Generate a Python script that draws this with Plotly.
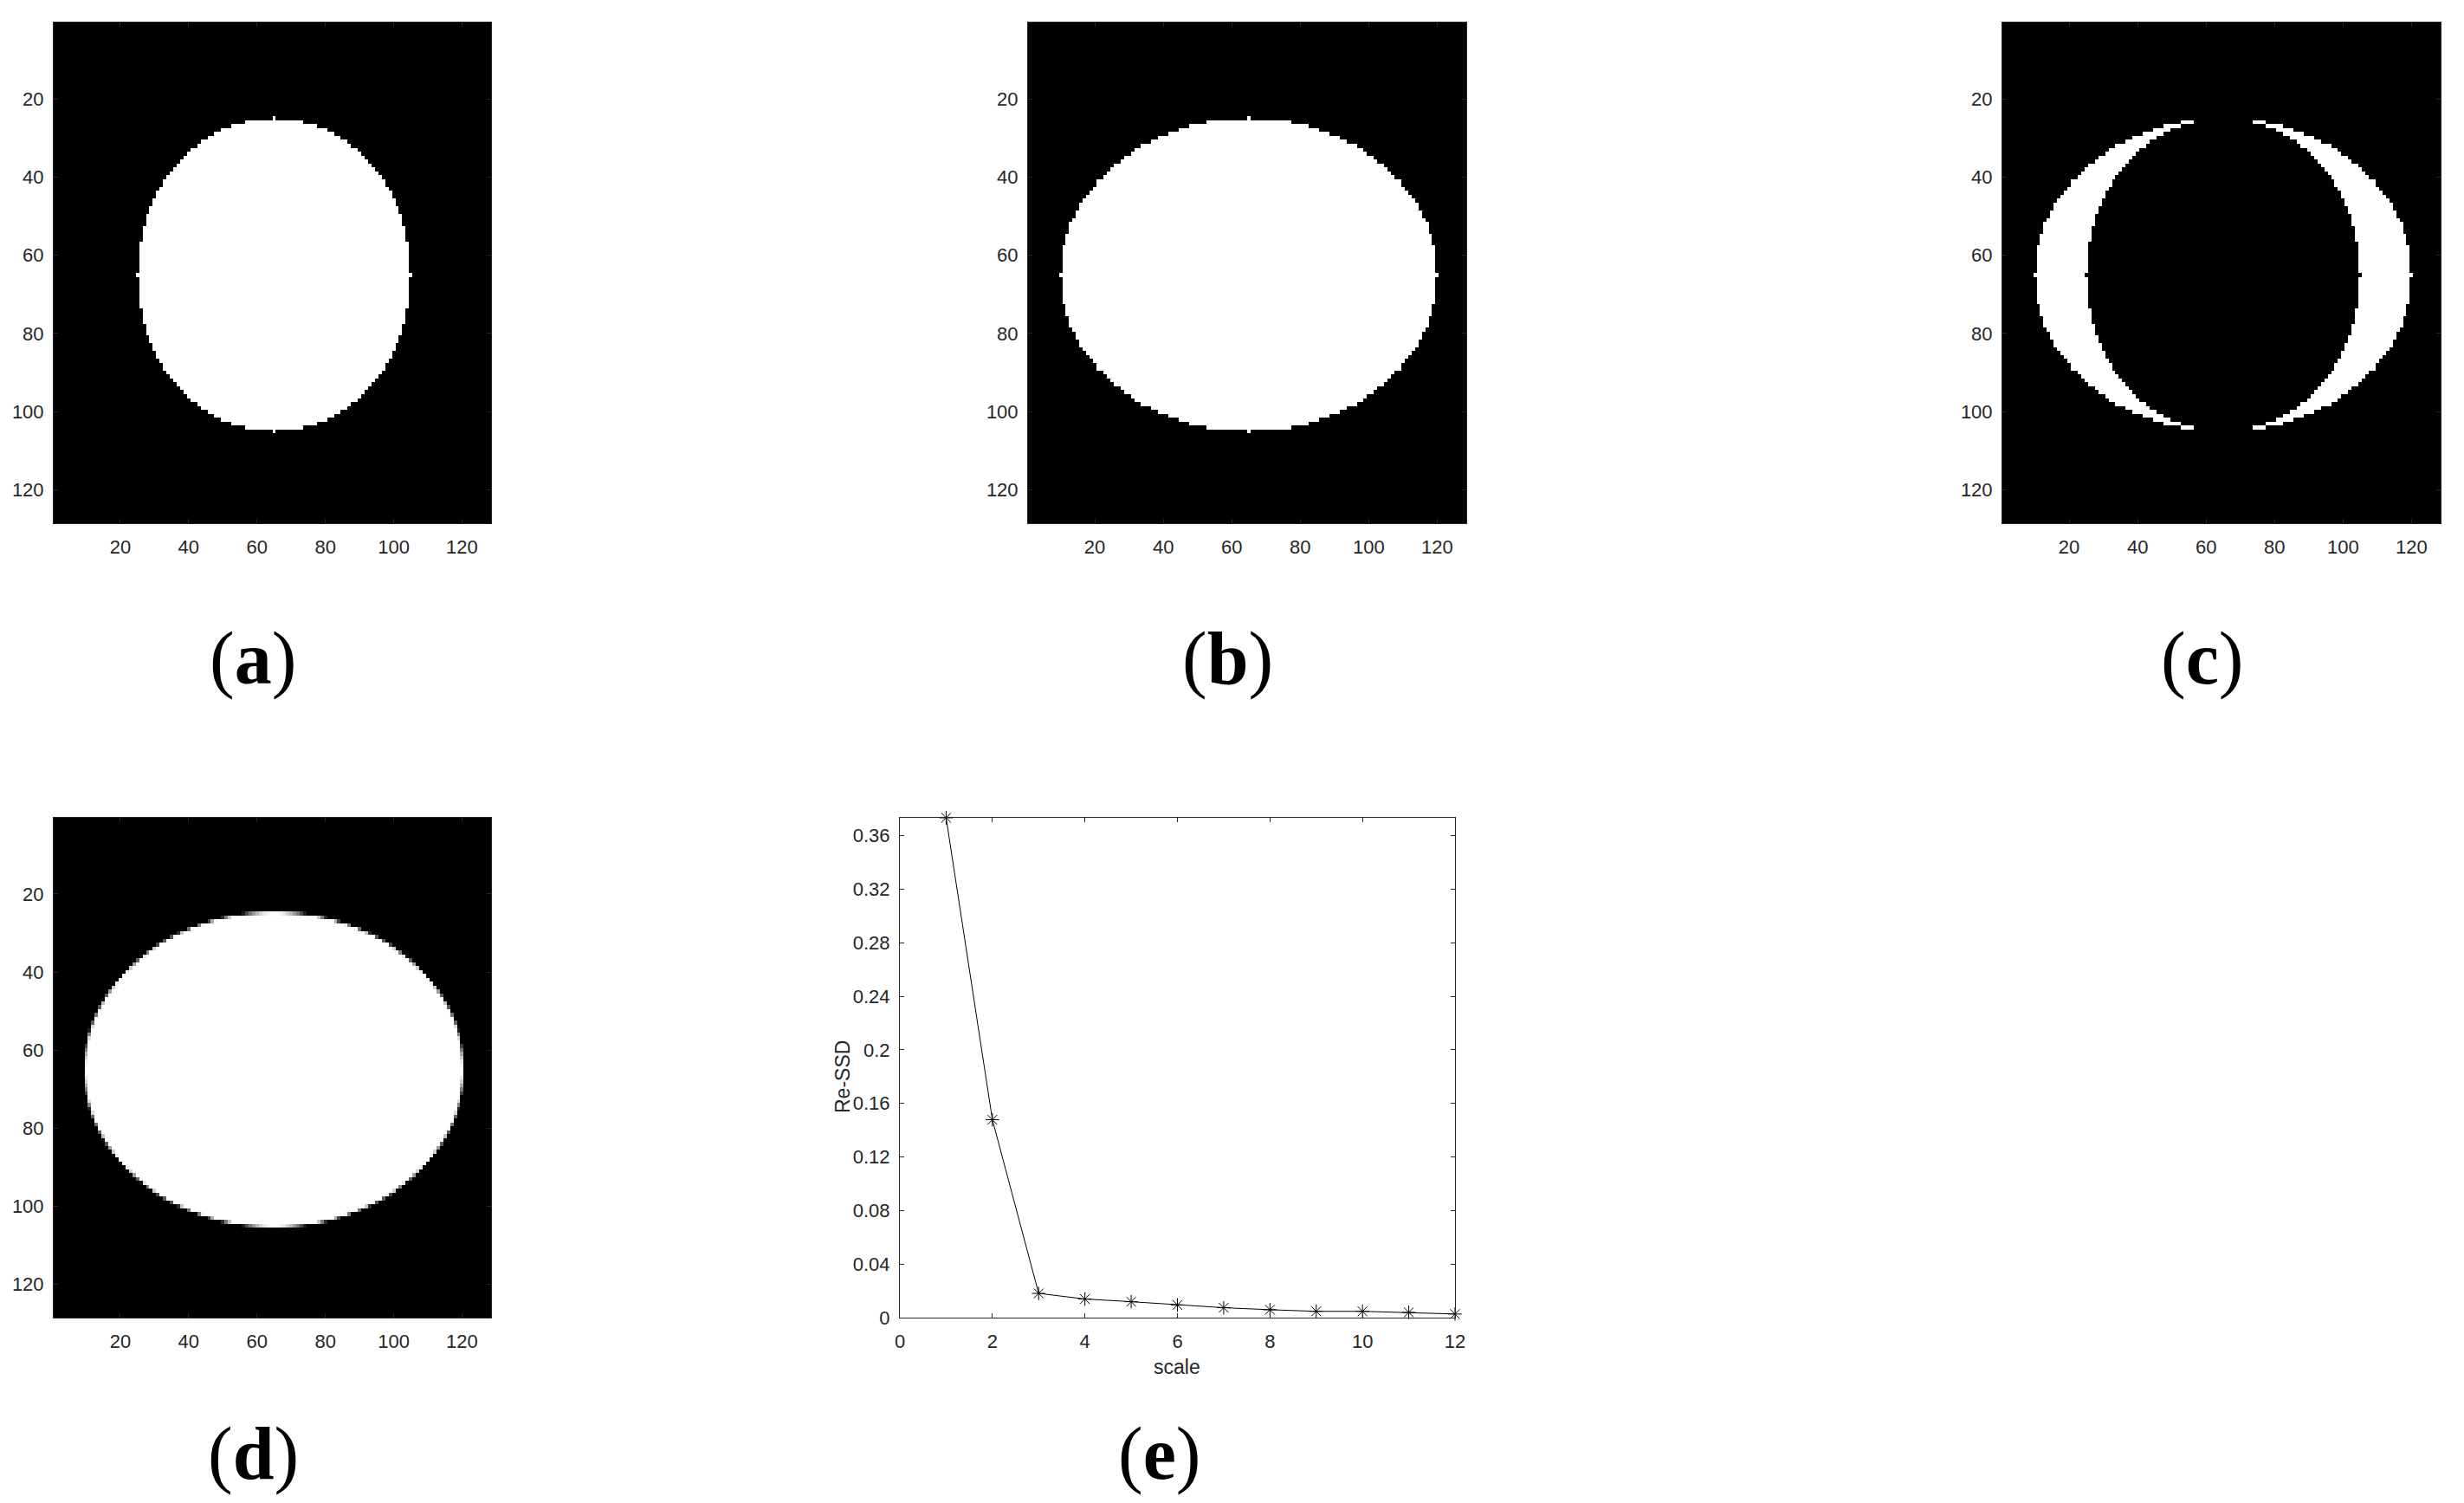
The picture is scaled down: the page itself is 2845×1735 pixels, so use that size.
import numpy as np
import plotly.graph_objects as go

W, H = 2845, 1735
PAGE_MARGIN = 8   # browser body margin around the plot div

# 128x128 binary phantoms, ellipses centred on pixel (65, 65)
img_size = 128
centre = (65, 65)
circle_radii = (40, 40)    # (a) semi-axes: columns, rows
ellipse_radii = (55, 40)   # (b)
img_ticks = [20, 40, 60, 80, 100, 120]

# (e) Re-SSD against scale
scales = [1, 2, 3, 4, 5, 6, 7, 8, 9, 10, 11, 12]
re_ssd = [0.3733, 0.1478, 0.0181, 0.0139, 0.0119, 0.0095,
          0.0074, 0.0059, 0.0047, 0.0047, 0.0039, 0.0027]
ssd_ticks = [0, 0.04, 0.08, 0.12, 0.16, 0.2, 0.24, 0.28, 0.32, 0.36]
scale_ticks = [0, 2, 4, 6, 8, 10, 12]
panel_labels = ["a", "b", "c", "d", "e"]


def ellipse_rho(radii):
    cols = np.arange(1, img_size + 1)
    rows = np.arange(1, img_size + 1)
    cc, rr = np.meshgrid(cols, rows)
    return np.sqrt(((cc - centre[0]) / radii[0]) ** 2 + ((rr - centre[1]) / radii[1]) ** 2)


img_a = (ellipse_rho(circle_radii) <= 1).astype(float)
img_b = (ellipse_rho(ellipse_radii) <= 1).astype(float)
img_c = ((img_b > 0) & (img_a == 0)).astype(float)
# registered result: same ellipse as (b) with a thin grey fringe
img_d = np.clip((1.015 - ellipse_rho(ellipse_radii)) / 0.015, 0, 1)

# panel boxes in page pixels (left, right, top, bottom)
boxes = [(62, 567, 26, 604), (1187, 1693, 26, 604), (2312, 2818, 26, 604),
         (62, 567, 944, 1521), (1039, 1680, 944, 1521)]
label_pos = [(292, 760), (1417, 760), (2542, 760), (292, 1678), (1338, 1678)]

FW, FH = W - PAGE_MARGIN, H - PAGE_MARGIN


def px(x):
    return (x - PAGE_MARGIN) / FW


def py(y):
    return 1 - (y - PAGE_MARGIN) / FH


axcol = "#262626"
sans = "Liberation Sans, Arial, sans-serif"
tickfont = dict(family=sans, size=22, color=axcol)

fig = go.Figure()
gray = [[0, "black"], [1, "white"]]
pix = np.arange(1, img_size + 1)
for i, img in enumerate([img_a, img_b, img_c, img_d]):
    n = "" if i == 0 else str(i + 1)
    fig.add_trace(go.Heatmap(z=img, x=pix, y=pix, colorscale=gray, zmin=0, zmax=1,
                             showscale=False, hoverinfo="skip",
                             xaxis="x" + n, yaxis="y" + n))

fig.add_trace(go.Scatter(x=scales, y=re_ssd, mode="lines+markers",
                         line=dict(color="black", width=1),
                         marker=dict(symbol="asterisk-open", size=13,
                                     line=dict(color="black", width=1)),
                         cliponaxis=False, showlegend=False,
                         xaxis="x5", yaxis="y5"))

common = dict(showline=True, linecolor=axcol, linewidth=1, mirror="ticks",
              ticks="inside", ticklen=5, tickcolor=axcol, tickwidth=1,
              showgrid=False, zeroline=False, tickfont=tickfont, automargin=False)

layout = dict(width=FW, height=FH, margin=dict(l=0, r=0, t=0, b=0, autoexpand=False),
              paper_bgcolor="white", plot_bgcolor="white", showlegend=False)

for i, (x0, x1, y0, y1) in enumerate(boxes):
    n = "" if i == 0 else str(i + 1)
    xa = dict(common, domain=[px(x0), px(x1)], anchor="y" + n, ticklabelstandoff=8)
    ya = dict(common, domain=[py(y1), py(y0)], anchor="x" + n, ticklabelstandoff=6)
    if i < 4:
        xa.update(range=[0.5, img_size + 0.5], tickvals=img_ticks)
        ya.update(range=[img_size + 0.5, 0.5], tickvals=img_ticks)
    else:
        xa.update(range=[0, 12], tickvals=scale_ticks)
        ya.update(range=[0, max(re_ssd)], tickvals=ssd_ticks,
                  ticktext=[f"{v:g}" for v in ssd_ticks])
    layout["xaxis" + n] = xa
    layout["yaxis" + n] = ya

annotations = [
    dict(text="scale", x=px(1359), y=py(1578), textangle=0,
         font=dict(family=sans, size=23, color=axcol)),
    dict(text="Re-SSD", x=px(973), y=py(1243), textangle=-90,
         font=dict(family=sans, size=23, color=axcol)),
]
for lab, (lx, ly) in zip(panel_labels, label_pos):
    annotations.append(dict(text=f"(<b>{lab}</b>)", x=px(lx), y=py(ly),
                            font=dict(family="Liberation Serif, Times New Roman, serif",
                                      size=86, color="black")))
for a in annotations:
    a.update(xref="paper", yref="paper", showarrow=False,
             xanchor="center", yanchor="middle")
layout["annotations"] = annotations

fig.update_layout(**layout)
fig.write_html("out.html")
